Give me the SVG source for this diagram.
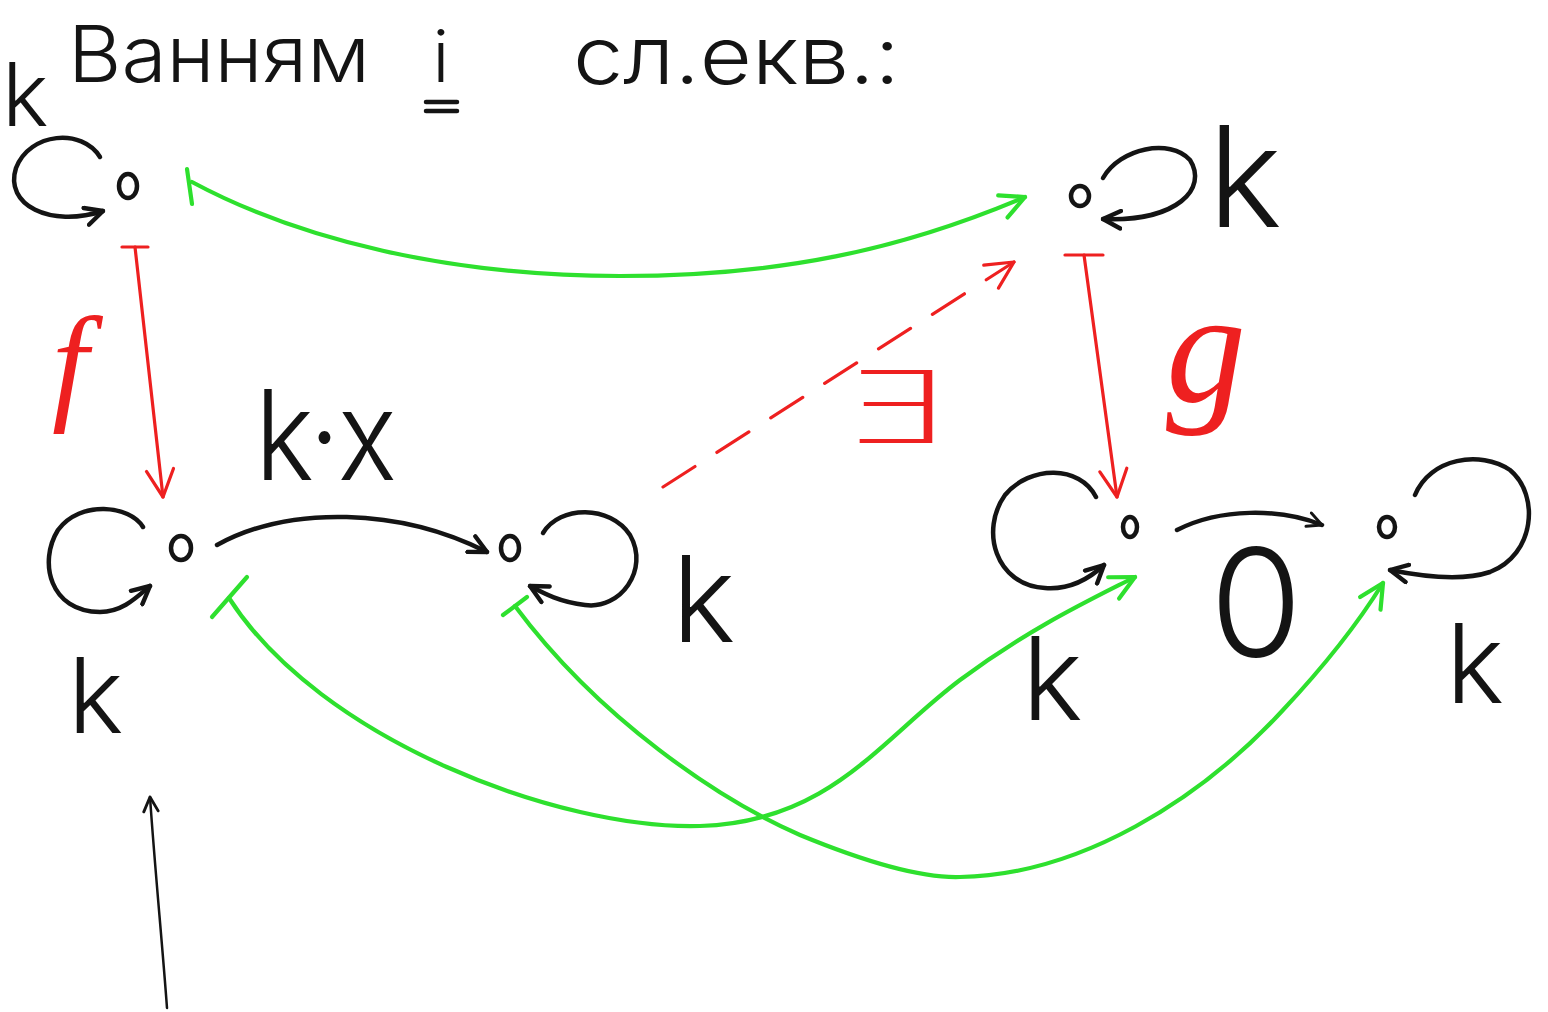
<svg xmlns="http://www.w3.org/2000/svg" width="1548" height="1012" viewBox="0 0 1548 1012">
<style>
.bg{fill:#ffffff}
.ink{fill:none;stroke:#141414;stroke-width:4.5;stroke-linecap:round;stroke-linejoin:round}
.thin{fill:none;stroke:#141414;stroke-width:2.5;stroke-linecap:round}
.grn{fill:none;stroke:#2ee02e;stroke-width:4.2;stroke-linecap:round;stroke-linejoin:round}
.red{fill:none;stroke:#ee2020;stroke-width:3.2;stroke-linecap:round;stroke-linejoin:round}
.dash{stroke-dasharray:38 26}
.hand{font-family:Inter,"Liberation Sans",sans-serif;font-weight:300;fill:#141414}
.math{font-family:"Liberation Serif",serif;font-style:italic;fill:#ee2020}
.sym{font-family:"DejaVu Sans",sans-serif;font-weight:300;fill:#ee2020}
</style>
<defs>
<marker id="ah-k" viewBox="0 0 10 10" refX="9" refY="5" markerWidth="22" markerHeight="22" markerUnits="userSpaceOnUse" orient="auto">
<path d="M1,1 L9,5 L1,9" fill="none" stroke="#141414" stroke-width="2" stroke-linecap="round" stroke-linejoin="round"/>
</marker>
<marker id="ah-ks" viewBox="0 0 10 10" refX="9" refY="5" markerWidth="18" markerHeight="18" markerUnits="userSpaceOnUse" orient="auto">
<path d="M1,1 L9,5 L1,9" fill="none" stroke="#141414" stroke-width="1.6" stroke-linecap="round" stroke-linejoin="round"/>
</marker>
<marker id="ah-g" viewBox="0 0 10 10" refX="9" refY="5" markerWidth="30" markerHeight="30" markerUnits="userSpaceOnUse" orient="auto">
<path d="M1,1 L9,5 L1,9" fill="none" stroke="#2ee02e" stroke-width="1.4" stroke-linecap="round" stroke-linejoin="round"/>
</marker>
<marker id="ah-r" viewBox="0 0 10 10" refX="9" refY="5" markerWidth="34" markerHeight="34" markerUnits="userSpaceOnUse" orient="auto">
<path d="M1,1 L9,5 L1,9" fill="none" stroke="#ee2020" stroke-width="0.95" stroke-linecap="round" stroke-linejoin="round"/>
</marker>
</defs>
<rect class="bg" x="0" y="0" width="1548" height="1012"/>

<g id="title">
<text class="hand" x="68" y="82" font-size="78" textLength="302" lengthAdjust="spacingAndGlyphs">Ванням</text>
<text class="hand" x="441" y="82" font-size="72" text-anchor="middle">і</text>
<line class="ink" x1="426" y1="102" x2="457" y2="102"/>
<line class="ink" x1="426" y1="111" x2="457" y2="111"/>
<text class="hand" x="573" y="84" font-size="80" textLength="327" lengthAdjust="spacingAndGlyphs">сл.екв.:</text>
</g>

<g id="node-tl">
<ellipse class="ink" cx="128" cy="186" rx="9" ry="12"/>
<path class="ink" d="M100,157 C82,128 30,132 16,168 C4,205 50,228 103,211" marker-end="url(#ah-k)"/>
<text class="hand" x="2" y="126" font-size="88">k</text>
</g>

<g id="node-tr">
<ellipse class="ink" cx="1080" cy="196" rx="9" ry="10"/>
<path class="ink" d="M1103,178 C1120,148 1170,138 1190,160 C1208,188 1178,222 1103,219" marker-end="url(#ah-k)"/>
<text class="hand" x="1208" y="227" font-size="140">k</text>
</g>

<g id="node-bl">
<ellipse class="ink" cx="181" cy="548" rx="10" ry="12"/>
<path class="ink" d="M143,527 C130,505 80,500 58,530 C38,562 50,612 100,612 C122,612 136,598 150,586" marker-end="url(#ah-k)"/>
<text class="hand" x="68" y="733" font-size="105">k</text>
</g>

<g id="node-bm">
<ellipse class="ink" cx="510" cy="548" rx="9" ry="12"/>
<path class="ink" d="M543,533 C560,505 610,505 630,535 C650,570 620,610 585,605 C560,602 545,594 530,586" marker-end="url(#ah-k)"/>
<text class="hand" x="672" y="642" font-size="120">k</text>
</g>

<g id="node-br1">
<ellipse class="ink" cx="1130" cy="527" rx="7" ry="10"/>
<path class="ink" d="M1096,497 C1080,465 1030,465 1005,495 C980,530 995,585 1045,588 C1070,590 1090,578 1104,565" marker-end="url(#ah-k)"/>
<text class="hand" x="1022" y="720" font-size="115">k</text>
</g>

<g id="node-br2">
<ellipse class="ink" cx="1387" cy="527" rx="8" ry="10"/>
<path class="ink" d="M1415,495 C1430,458 1480,450 1510,470 C1540,495 1535,555 1490,572 C1460,582 1420,576 1390,570" marker-end="url(#ah-k)"/>
<text class="hand" x="1446" y="703" font-size="110">k</text>
</g>

<g id="connectors">
<path class="ink" d="M217,545 C290,505 400,508 487,552" marker-end="url(#ah-k)"/>
<text class="hand" x="255" y="480" font-size="125" textLength="142" lengthAdjust="spacingAndGlyphs">k·x</text>
<path class="ink" d="M1177,530 C1220,508 1280,508 1322,525" marker-end="url(#ah-ks)"/>
<text class="hand" x="1256" y="657" font-size="150" text-anchor="middle">0</text>
<path class="thin" d="M167,1008 C162,940 155,870 150,797" marker-end="url(#ah-ks)"/>

<line class="red" x1="122" y1="247" x2="148" y2="247"/>
<path class="red" d="M135,247 L163,497" marker-end="url(#ah-r)"/>
<text class="math" x="52" y="406" font-size="130">f</text>
<line class="red" x1="1065" y1="255" x2="1103" y2="255"/>
<path class="red" d="M1084,255 L1117,497" marker-end="url(#ah-r)"/>
<text class="math" x="1166" y="402" font-size="160">g</text>
<path class="red dash" d="M663,487 L1014,262"/>
<path class="red" d="M663,487 L1014,262" stroke-opacity="0" marker-end="url(#ah-r)"/>
<text class="sym" x="839" y="443" font-size="100" textLength="109" lengthAdjust="spacingAndGlyphs">∃</text>

<line class="grn" x1="187" y1="169" x2="192" y2="204"/>
<path class="grn" d="M192,182 C300,240 450,276 620,276 C780,276 900,250 1025,197" marker-end="url(#ah-g)"/>
<line class="grn" x1="212" y1="617" x2="247" y2="577"/>
<path class="grn" d="M229,598 C320,740 560,830 700,826 C830,822 880,740 960,680 C1030,628 1090,600 1135,577" marker-end="url(#ah-g)"/>
<line class="grn" x1="503" y1="615" x2="527" y2="597"/>
<path class="grn" d="M515,606 C600,720 720,800 800,835 C880,868 930,878 960,877 C1080,875 1200,800 1283,710 C1330,660 1360,620 1383,583" marker-end="url(#ah-g)"/>
</g>
</svg>
